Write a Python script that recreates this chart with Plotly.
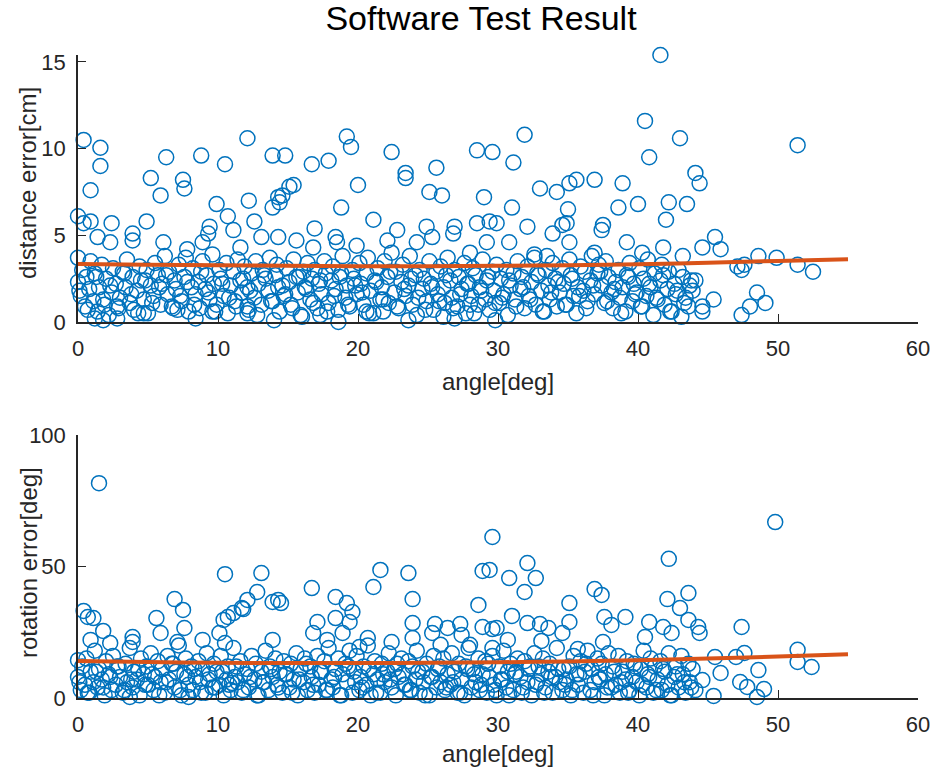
import plotly.graph_objects as go

# ---------------- data ----------------
# upper / isolated points, distance panel
dist_hi_angle = [0.4, 1.6, 1.6, 0.9, 0.0, 0.9, 0.4, 2.4, 1.4, 2.3, 0.0,
                 3.9, 3.9, 4.9, 6.1, 5.2, 5.9, 6.3, 7.5, 7.6, 8.8, 10.5, 9.9,
                 10.7, 11.1, 9.4, 9.3, 8.9, 7.8, 12.1, 12.2, 12.6, 13.1, 11.6,
                 13.9, 14.8, 13.9, 14.3, 14.6, 15.1, 14.3,
                 16.7, 17.9, 19.2, 19.5, 22.4, 23.4, 23.4, 25.6, 25.1, 26.0, 28.5, 29.6, 29.0,
                 15.4, 14.4, 20.0, 18.8, 21.1, 16.9, 15.6, 16.8, 18.4, 18.5, 19.9, 22.8, 22.1,
                 24.9, 25.3, 24.2, 26.9, 26.8, 28.5, 29.4, 29.9, 29.2, 28.0,
                 41.6, 40.5, 43.0, 40.8, 31.9, 31.1, 44.1, 44.4, 33.0, 34.2,
                 35.1, 35.6, 36.9, 38.9, 31.0, 35.0, 38.6, 40.0, 42.2, 43.5,
                 42.0, 32.1, 34.9, 34.6, 37.5, 37.4, 33.9, 30.8, 35.1, 39.2,
                 41.8, 44.6, 32.6, 33.5, 36.9, 40.3, 43.2,
                 51.4, 45.5, 45.9, 48.6, 49.9, 51.4, 52.5, 47.1, 47.6, 47.4,
                 45.4, 44.6, 44.6, 47.4, 48.0, 48.5, 49.1,
                 1.2, 1.8, 2.8, 4.7, 7.1, 8.4, 9.6, 12.1, 12.1, 14.0,
                 16.0, 17.3, 18.6, 20.6, 21.8, 23.6, 26.1, 26.9, 28.0, 29.8]
dist_hi = [10.5, 10.05, 9.0, 7.6, 6.1, 5.8, 5.7, 5.7, 4.9, 4.6, 3.7,
           5.1, 4.7, 5.8, 4.6, 8.3, 7.3, 9.5, 8.2, 7.7, 9.6, 9.1, 6.8,
           6.1, 5.3, 5.5, 5.1, 4.6, 4.2, 10.6, 7.0, 5.8, 4.9, 4.3,
           9.6, 9.6, 6.6, 7.2, 7.3, 7.8, 4.9,
           9.1, 9.3, 10.7, 10.1, 9.8, 8.6, 8.3, 8.9, 7.5, 7.3, 9.9, 9.8, 7.2,
           7.9, 6.9, 7.9, 6.6, 5.9, 5.4, 4.7, 4.3, 4.9, 4.6, 4.4, 5.3, 4.7,
           5.5, 4.9, 4.6, 5.5, 5.1, 5.7, 5.8, 5.7, 4.6, 4.0,
           15.4, 11.6, 10.6, 9.5, 10.8, 9.2, 8.6, 8.0, 7.7, 7.5,
           8.0, 8.2, 8.2, 8.0, 6.6, 6.5, 6.6, 6.8, 6.9, 6.8,
           5.9, 5.5, 5.7, 5.6, 5.6, 5.3, 5.1, 4.6, 4.6, 4.6,
           4.3, 4.3, 3.9, 3.8, 4.0, 4.0, 3.8,
           10.2, 4.9, 4.2, 3.8, 3.7, 3.3, 2.9, 3.2, 3.3, 3.0,
           1.3, 0.9, 0.6, 0.4, 0.9, 1.7, 1.1,
           0.2, 0.1, 0.2, 0.5, 0.7, 0.2, 0.6, 0.9, 0.5, 0.1,
           0.3, 0.4, 0.0, 0.6, 0.6, 0.1, 0.3, 0.2, 1.0, 0.1]

# upper / isolated points, rotation panel
rot_hi_angle = [1.5, 10.5, 13.1, 12.8, 12.1, 11.7, 13.9, 14.5, 14.3, 6.9,
                7.5, 5.6, 7.6, 0.4, 0.7, 1.1, 1.8, 0.9, 2.3,
                10.4, 10.7, 11.1, 11.8, 10.5, 10.1, 3.9, 3.9, 5.9, 7.1,
                8.9, 13.9, 0.0, 3.7, 7.9, 11.0,
                29.6, 28.9, 23.6, 21.6, 21.1, 16.7, 23.9, 28.6, 18.4, 19.2,
                19.6, 19.4, 18.4, 17.1,
                23.9, 25.5, 26.4, 27.3, 27.4, 25.3, 28.9, 29.6, 23.9, 25.9,
                28.0, 29.6, 16.8, 17.8, 18.9, 20.7, 20.1, 22.4,
                42.2, 32.1, 32.7, 31.9, 30.8, 29.4, 36.9, 37.4, 43.6, 42.1,
                43.0, 35.1, 35.1, 37.6, 38.1, 39.1,
                31.0, 32.1, 33.0, 33.6, 34.6, 33.1, 29.9, 30.7, 40.8, 40.5,
                41.8, 42.4, 43.6, 44.3, 44.4, 37.5, 35.7,
                49.8, 47.4, 51.4, 51.4, 52.4, 47.6, 47.0, 45.5, 48.6, 45.9,
                44.6, 47.3, 47.8, 49.0, 48.5, 45.4]
rot_hi = [81.7, 47.1, 47.5, 40.3, 37.3, 34.2, 36.5, 36.1, 37.3, 37.6,
          33.5, 30.4, 26.6, 33.1, 30.8, 30.4, 25.5, 22.1, 20.9,
          29.7, 30.8, 32.3, 33.8, 20.9, 24.7, 23.2, 21.3, 24.7, 21.3,
          22.1, 22.1, 14.4, 0.4, 0.4, 5.7,
          61.2, 48.3, 47.5, 48.7, 42.2, 41.8, 37.6, 35.4, 38.4, 36.1,
          32.7, 28.9, 30.4, 28.9,
          28.5, 28.1, 26.6, 28.1, 24.0, 24.7, 27.0, 26.2, 22.8, 20.2,
          20.2, 19.0, 24.7, 22.1, 24.7, 22.8, 19.4, 21.3,
          52.9, 51.3, 45.6, 40.3, 45.6, 48.7, 41.4, 39.2, 39.9, 37.6,
          34.2, 36.1, 28.9, 30.8, 27.8, 30.8,
          31.2, 28.5, 28.1, 26.6, 24.7, 21.7, 26.6, 22.1, 28.9, 23.2,
          27.0, 24.7, 29.7, 27.0, 24.7, 21.3, 18.6,
          66.9, 27.0, 18.3, 13.7, 11.8, 17.1, 15.6, 15.6, 10.6, 9.5,
          6.8, 6.1, 4.2, 3.4, 0.4, 0.8]

# dense band of points (angles shared by both panels)
band_angle = [0.0, 0.2, 0.3, 0.5, 0.6, 0.8, 0.9, 1.1, 1.2, 1.4,
              1.5, 1.7, 1.9, 2.0, 2.2, 2.4, 2.5, 2.7, 2.9, 3.0,
              3.2, 3.4, 3.5, 3.7, 3.9, 4.0, 4.2, 4.4, 4.5, 4.7,
              4.9, 5.0, 5.2, 5.4, 5.5, 5.7, 5.9, 6.0, 6.2, 6.4,
              6.5, 6.7, 6.9, 7.0, 7.2, 7.4, 7.6, 7.7, 7.9, 8.1,
              8.2, 8.4, 8.6, 8.7, 8.9, 9.1, 9.2, 9.4, 9.6, 9.7,
              9.9, 10.1, 10.2, 10.4, 10.6, 10.7, 10.9, 11.1, 11.2, 11.4,
              11.6, 11.7, 11.9, 12.1, 12.2, 12.4, 12.6, 12.7, 12.9, 13.1,
              13.2, 13.4, 13.6, 13.7, 13.9, 14.1, 14.2, 14.4, 14.6, 14.7,
              14.9, 15.1, 15.2, 15.4, 15.6, 15.7, 15.9, 16.1, 16.2, 16.4,
              16.6, 16.7, 16.9, 17.1, 17.2, 17.4, 17.6, 17.7, 17.9, 18.1,
              18.2, 18.4, 18.6, 18.7, 18.9, 19.1, 19.2, 19.4, 19.6, 19.7,
              19.9, 20.1, 20.2, 20.4, 20.6, 20.7, 20.9, 21.1, 21.2, 21.4,
              21.6, 21.7, 21.9, 22.1, 22.2, 22.4, 22.6, 22.7, 22.9, 23.1,
              23.2, 23.4, 23.6, 23.7, 23.9, 24.1, 24.2, 24.4, 24.6, 24.7,
              24.9, 25.1, 25.2, 25.4, 25.6, 25.7, 25.9, 26.1, 26.2, 26.4,
              26.6, 26.7, 26.9, 27.1, 27.2, 27.4, 27.6, 27.7, 27.9, 28.1,
              28.2, 28.4, 28.6, 28.7, 28.9, 29.1, 29.2, 29.4, 29.6, 29.7,
              29.9, 30.1, 30.2, 30.4, 30.6, 30.7, 30.9, 31.1, 31.2, 31.4,
              31.6, 31.7, 31.9, 32.1, 32.2, 32.4, 32.6, 32.7, 32.9, 33.1,
              33.2, 33.4, 33.6, 33.7, 33.9, 34.1, 34.2, 34.4, 34.6, 34.7,
              34.9, 35.1, 35.2, 35.4, 35.6, 35.7, 35.9, 36.1, 36.2, 36.4,
              36.6, 36.7, 36.9, 37.1, 37.2, 37.4, 37.6, 37.7, 37.9, 38.1,
              38.2, 38.4, 38.6, 38.7, 38.9, 39.1, 39.2, 39.4, 39.6, 39.7,
              39.9, 40.1, 40.2, 40.4, 40.6, 40.7, 40.9, 41.1, 41.2, 41.4,
              41.6, 41.7, 41.9, 42.1, 42.2, 42.4, 42.6, 42.7, 42.9, 43.1,
              43.2, 43.4, 43.6, 43.7, 43.9, 44.1]
dist_band = [2.3, 1.5, 3.0, 0.9, 2.6, 1.9, 3.5, 1.2, 2.8, 0.6,
             2.0, 3.3, 1.0, 2.5, 0.4, 1.7, 3.1, 2.2, 0.8, 1.4,
             2.9, 2.0, 3.6, 1.1, 2.6, 0.7, 1.8, 3.2, 2.4, 1.3,
             3.0, 0.5, 2.1, 1.5, 3.4, 2.7, 1.0, 2.2, 3.8, 1.6,
             2.9, 0.9, 2.4, 1.9, 3.3, 1.2, 2.6, 3.7, 0.6, 2.0,
             3.1, 1.6, 2.3, 0.8, 3.5, 1.9, 2.7, 1.3, 3.9, 2.2,
             1.0, 3.0, 2.5, 1.5, 3.4, 0.5, 2.1, 2.9, 1.2, 3.6,
             2.4, 1.7, 3.2, 2.0, 0.7, 2.8, 1.4, 3.5, 2.2, 1.0,
             3.0, 2.5, 1.8, 3.7, 1.2, 2.7, 3.3, 0.6, 2.1, 1.5,
             3.1, 2.3, 1.0, 3.6, 2.6, 1.7, 0.4, 2.9, 2.0, 3.4,
             1.3, 2.5, 3.0, 0.8, 2.2, 1.6, 3.5, 2.8, 1.1, 2.4,
             3.2, 1.9, 0.7, 2.6, 3.8, 1.4, 2.1, 0.9, 3.0, 2.5,
             1.6, 3.4, 2.2, 1.0, 2.8, 3.7, 1.8, 0.5, 2.4, 3.1,
             1.3, 2.0, 3.5, 2.6, 1.1, 4.0, 1.7, 2.9, 0.8, 2.3,
             3.3, 1.5, 2.1, 3.8, 1.0, 2.7, 0.4, 3.0, 1.9, 2.5,
             1.2, 3.5, 2.2, 0.7, 2.9, 1.6, 3.2, 2.0, 1.1, 3.7,
             2.4, 1.4, 3.0, 0.9, 2.6, 1.9, 3.4, 0.5, 2.2, 1.5,
             3.1, 2.7, 1.0, 2.0, 3.6, 1.3, 2.4, 0.7, 2.9, 1.8,
             3.3, 1.1, 2.5, 1.6, 3.0, 0.4, 2.1, 2.8, 1.3, 3.5,
             1.9, 2.6, 0.8, 3.2, 1.5, 2.3, 3.7, 1.0, 2.7, 1.8,
             0.6, 3.0, 2.1, 1.3, 3.4, 2.5, 0.9, 1.7, 3.1, 2.2,
             1.0, 3.6, 2.7, 1.5, 0.5, 2.0, 3.2, 1.8, 2.9, 1.2,
             2.4, 3.8, 1.6, 2.8, 3.3, 2.1, 1.1, 3.5, 2.6, 1.7,
             0.8, 2.3, 3.0, 1.4, 2.0, 0.6, 2.7, 3.4, 1.2, 2.2,
             1.7, 3.1, 0.9, 2.5, 1.5, 3.6, 2.0, 0.4, 2.8, 1.3,
             2.4, 3.3, 1.0, 1.9, 2.9, 0.6, 2.2, 1.6, 3.0, 0.3,
             2.6, 1.4, 0.9, 2.1, 1.8, 2.4]
rot_band = [8, 3, 12, 5, 15, 2, 10, 6, 18, 4,
            11, 7, 1, 14, 9, 3, 16, 5, 12, 8,
            2, 13, 6, 19, 4, 10, 7, 1, 15, 9,
            12, 5, 17, 3, 8, 14, 6, 11, 2, 16,
            7, 13, 4, 10, 20, 1, 9, 15, 5, 12,
            3, 8, 14, 6, 11, 2, 17, 9, 4, 13,
            10, 5, 16, 1, 7, 12, 3, 19, 8, 6,
            14, 2, 9, 11, 4, 16, 7, 13, 1, 10,
            6, 18, 3, 12, 8, 15, 5, 10, 2, 14,
            9, 4, 13, 7, 17, 1, 11, 6, 15, 3,
            12, 8, 2, 16, 5, 10, 14, 3, 19, 7,
            4, 11, 15, 1, 9, 13, 6, 18, 2, 10,
            16, 3, 8, 12, 5, 20, 1, 9, 14, 7,
            2, 13, 6, 10, 17, 4, 11, 1, 8, 15,
            9, 5, 14, 3, 12, 7, 18, 2, 10, 6,
            13, 1, 8, 16, 4, 11, 6, 15, 3, 9,
            5, 17, 10, 2, 13, 7, 1, 12, 19, 4,
            11, 6, 15, 3, 9, 14, 2, 8, 16, 5,
            1, 12, 7, 18, 4, 10, 13, 3, 9, 15,
            8, 2, 14, 6, 11, 1, 17, 5, 12, 9,
            15, 4, 10, 13, 2, 8, 19, 6, 3, 11,
            7, 12, 1, 16, 9, 5, 14, 2, 10, 18,
            3, 11, 6, 15, 8, 13, 1, 9, 17, 4,
            12, 5, 16, 2, 10, 7, 14, 3, 8, 13,
            6, 1, 11, 18, 4, 9, 15, 2, 12, 7,
            14, 3, 10, 5, 17, 1, 8, 12, 4, 16,
            9, 2, 13, 6, 11, 3]

# second, lower layer of the dense band
band2_angle = [0.1, 0.7, 1.3, 1.8, 2.3, 2.8, 3.3, 3.8, 4.3, 4.8,
               5.3, 5.8, 6.3, 6.8, 7.3, 7.8, 8.3, 8.8, 9.3, 9.8,
               10.3, 10.8, 11.3, 11.8, 12.3, 12.8, 13.3, 13.8, 14.3, 14.8,
               15.3, 15.8, 16.3, 16.8, 17.3, 17.8, 18.3, 18.8, 19.3, 19.8,
               20.3, 20.8, 21.3, 21.8, 22.3, 22.8, 23.3, 23.8, 24.3, 24.8,
               25.3, 25.8, 26.3, 26.8, 27.3, 27.8, 28.3, 28.8, 29.3, 29.8,
               30.3, 30.8, 31.3, 31.8, 32.3, 32.8, 33.3, 33.8, 34.3, 34.8,
               35.3, 35.8, 36.3, 36.8, 37.3, 37.8, 38.3, 38.8, 39.3, 39.8,
               40.3, 40.8, 41.3, 41.8, 42.3, 42.8, 43.3, 43.8]
dist_band2 = [1.8, 0.7, 2.6, 1.3, 2.1, 0.9, 2.8, 1.6, 0.5, 2.4,
              1.1, 2.0, 2.7, 0.8, 1.5, 2.3, 1.0, 2.9, 1.7, 0.6,
              2.2, 1.4, 0.9, 2.5, 1.8, 0.4, 2.7, 1.2, 2.0, 1.6,
              0.8, 2.6, 1.9, 1.1, 2.4, 0.6, 1.5, 2.8, 1.0, 2.1,
              1.7, 0.5, 2.3, 1.3, 2.9, 0.9, 1.9, 2.5, 1.4, 0.7,
              2.0, 1.2, 2.7, 0.8, 1.6, 2.2, 0.5, 1.8, 2.6, 1.1,
              1.4, 2.4, 0.9, 2.0, 1.3, 2.8, 0.6, 1.7, 2.3, 1.0,
              2.5, 1.5, 0.8, 2.1, 2.9, 1.2, 1.9, 0.5, 2.6, 1.6,
              0.9, 2.2, 1.4, 2.7, 0.6, 1.8, 1.1, 2.4]
rot_band2 = [6, 2, 10, 4, 8, 12, 3, 7, 11, 5,
             9, 1, 6, 13, 3, 8, 11, 2, 7, 4,
             10, 5, 12, 3, 8, 1, 6, 11, 4, 9,
             2, 7, 13, 5, 10, 3, 8, 1, 12, 6,
             4, 11, 2, 9, 7, 13, 5, 3, 10, 1,
             8, 12, 4, 6, 2, 11, 9, 5, 13, 3,
             7, 1, 10, 4, 12, 6, 2, 8, 11, 5,
             3, 9, 13, 1, 7, 4, 10, 6, 2, 12,
             5, 8, 3, 11, 1, 9, 6, 4]

# fitted trend curves
fit_angle = [0, 5, 10, 15, 20, 25, 30, 35, 40, 45, 50, 55]
dist_fit = [3.35, 3.30, 3.27, 3.24, 3.22, 3.22, 3.24, 3.28, 3.33, 3.42, 3.52, 3.62]
rot_fit = [14.1, 13.7, 13.4, 13.3, 13.3, 13.4, 13.6, 13.9, 14.4, 15.0, 15.8, 16.6]

x_ticks = [0, 10, 20, 30, 40, 50, 60]
dist_ticks = [0, 5, 10, 15]
rot_ticks = [0, 50, 100]

assert len(dist_hi_angle) == len(dist_hi)
assert len(rot_hi_angle) == len(rot_hi)
assert len(band_angle) == len(dist_band) == len(rot_band)
assert len(band2_angle) == len(dist_band2) == len(rot_band2)

# ---------------- styling ----------------
W, H = 935, 772
BLUE = "#0072BD"
ORANGE = "#D95319"
AX = "#262626"
FONT = "Liberation Sans, Arial, sans-serif"

marker = dict(symbol="circle-open", size=15, color=BLUE, line=dict(width=1.5, color=BLUE))

fig = go.Figure()
for xs, ys, xa, ya in [(band_angle, dist_band, "x", "y"), (band2_angle, dist_band2, "x", "y"),
                       (dist_hi_angle, dist_hi, "x", "y"),
                       (band_angle, rot_band, "x2", "y2"), (band2_angle, rot_band2, "x2", "y2"),
                       (rot_hi_angle, rot_hi, "x2", "y2")]:
    fig.add_trace(go.Scatter(x=xs, y=ys, mode="markers", marker=marker, xaxis=xa, yaxis=ya,
                             cliponaxis=False, showlegend=False, hoverinfo="x+y"))

fig.add_trace(go.Scatter(x=fit_angle, y=dist_fit, mode="lines", line=dict(color=ORANGE, width=4, shape="spline"),
                         xaxis="x", yaxis="y", showlegend=False))
fig.add_trace(go.Scatter(x=fit_angle, y=rot_fit, mode="lines", line=dict(color=ORANGE, width=4, shape="spline"),
                         xaxis="x2", yaxis="y2", showlegend=False))

xdom = [78 / W, 918 / W]
ydom_top = [1 - 322 / H, 1 - 55 / H]
ydom_bot = [1 - 698 / H, 1 - 435 / H]

axis_common = dict(showline=True, linecolor=AX, linewidth=1.5, ticks="inside", ticklen=8,
                   tickcolor=AX, tickwidth=1.2, showgrid=False, zeroline=False, automargin=False,
                   tickfont=dict(family=FONT, size=22, color=AX), mirror=False,
                   ticklabelstandoff=6)

fig.update_layout(
    width=W, height=H,
    margin=dict(l=0, r=0, t=0, b=0, autoexpand=False),
    paper_bgcolor="white", plot_bgcolor="white",
    title=dict(text="Software Test Result", x=481 / W, xref="container", xanchor="center",
               y=1 - 18 / H, yref="container", yanchor="middle",
               font=dict(family=FONT, size=34, color="black")),
    xaxis=dict(domain=xdom, range=[0, 60], tickvals=x_ticks, anchor="y", **axis_common),
    yaxis=dict(domain=ydom_top, range=[0, 15.4], tickvals=dist_ticks, anchor="x", **axis_common),
    xaxis2=dict(domain=xdom, range=[0, 60], tickvals=x_ticks, anchor="y2", **axis_common),
    yaxis2=dict(domain=ydom_bot, range=[0, 100], tickvals=rot_ticks, anchor="x2", **axis_common),
    annotations=[
        dict(text="angle[deg]", x=498 / W, y=1 - 381 / H, xref="paper", yref="paper",
             showarrow=False, font=dict(family=FONT, size=24, color=AX), xanchor="center", yanchor="middle"),
        dict(text="angle[deg]", x=498 / W, y=1 - 753 / H, xref="paper", yref="paper",
             showarrow=False, font=dict(family=FONT, size=24, color=AX), xanchor="center", yanchor="middle"),
        dict(text="distance error[cm]", x=28 / W, y=1 - 183 / H, xref="paper", yref="paper",
             textangle=-90, showarrow=False, font=dict(family=FONT, size=24, color=AX),
             xanchor="center", yanchor="middle"),
        dict(text="rotation error[deg]", x=28 / W, y=1 - 563 / H, xref="paper", yref="paper",
             textangle=-90, showarrow=False, font=dict(family=FONT, size=24, color=AX),
             xanchor="center", yanchor="middle"),
    ],
)

fig.write_html("out.html")
